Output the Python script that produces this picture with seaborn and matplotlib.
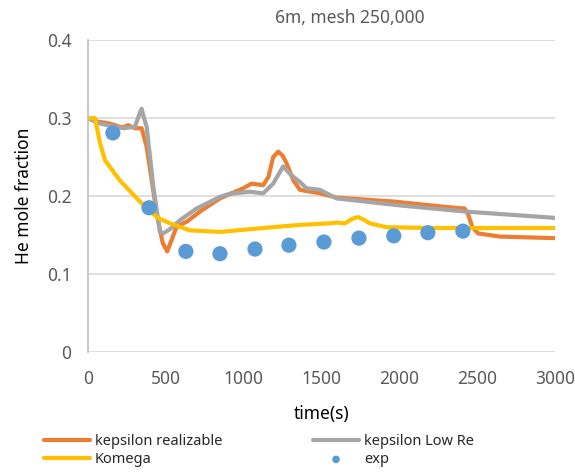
import matplotlib
matplotlib.use("Agg")
import matplotlib.pyplot as plt
import seaborn as sns

# --- data ---
t_real = [0, 50, 141, 220, 259, 302, 345, 377, 410, 441, 480, 509, 540, 570, 634, 719, 848,
          998, 1051, 1126, 1160, 1190, 1222, 1250, 1276, 1320, 1362, 1490, 1597, 1961, 2300,
          2420, 2440, 2470, 2507, 2646, 3000]
he_real = [0.300, 0.296, 0.293, 0.288, 0.291, 0.287, 0.287, 0.263, 0.220, 0.178, 0.140, 0.129,
           0.145, 0.161, 0.167, 0.180, 0.197, 0.210, 0.216, 0.214, 0.225, 0.250, 0.257, 0.252,
           0.242, 0.220, 0.208, 0.2035, 0.198, 0.193, 0.186, 0.184, 0.178, 0.160, 0.152, 0.148,
           0.146]

t_lowre = [0, 77, 227, 302, 330, 345, 360, 377, 420, 462, 484, 530, 591, 698, 848, 912, 1040,
           1126, 1190, 1254, 1300, 1362, 1404, 1490, 1597, 2004, 2432, 3000]
he_lowre = [0.300, 0.293, 0.287, 0.289, 0.305, 0.312, 0.300, 0.289, 0.212, 0.154, 0.152, 0.158,
            0.169, 0.184, 0.199, 0.203, 0.2055, 0.2035, 0.216, 0.238, 0.228, 0.218, 0.210,
            0.208, 0.197, 0.188, 0.180, 0.172]

t_komega = [0, 45, 75, 109, 205, 300, 377, 450, 527, 655, 848, 1125, 1362, 1554, 1597, 1651,
            1700, 1736, 1770, 1811, 1918, 2217, 3000]
he_komega = [0.300, 0.300, 0.270, 0.246, 0.220, 0.200, 0.184, 0.172, 0.165, 0.156, 0.154, 0.159,
             0.163, 0.165, 0.166, 0.165, 0.171, 0.173, 0.170, 0.165, 0.160, 0.159, 0.159]

t_exp = [160, 392, 629, 848, 1073, 1291, 1516, 1741, 1965, 2184, 2409]
he_exp = [0.281, 0.185, 0.129, 0.126, 0.132, 0.137, 0.141, 0.146, 0.149, 0.153, 0.155]

sns.set_style("white")
plt.rcParams['font.family'] = ['Noto Sans', 'DejaVu Sans']

fig = plt.figure(figsize=(5.75, 4.73), dpi=100)
ax = fig.add_axes([0.153, 0.256, 0.812, 0.659])

lw = 3
sns.lineplot(x=t_real, y=he_real, ax=ax, color='#ED7D31', linewidth=lw, sort=False,
             estimator=None, label='kepsilon realizable')
sns.lineplot(x=t_lowre, y=he_lowre, ax=ax, color='#A5A5A5', linewidth=lw, sort=False,
             estimator=None, label='kepsilon Low Re')
sns.lineplot(x=t_komega, y=he_komega, ax=ax, color='#FFC000', linewidth=lw, sort=False,
             estimator=None, label='Komega')
sns.scatterplot(x=t_exp, y=he_exp, ax=ax, color='#5B9BD5', s=120, edgecolor='none',
                label='exp', zorder=5)

ax.set_xlim(0, 3000)
ax.set_ylim(0, 0.4)
ax.set_xticks(range(0, 3001, 500))
ax.set_yticks([0, 0.1, 0.2, 0.3, 0.4])
ax.set_yticklabels(['0', '0.1', '0.2', '0.3', '0.4'])
ax.tick_params(axis='both', labelsize=12.5, colors='#595959', length=0)
ax.tick_params(axis='y', pad=12)
ax.tick_params(axis='x', pad=13)
ax.yaxis.grid(True, color='#D9D9D9', linewidth=1.2)
ax.set_axisbelow(True)
for s in ['top', 'right', 'bottom']:
    ax.spines[s].set_visible(False)
ax.spines['left'].set_color('#BFBFBF')
ax.spines['left'].set_linewidth(1.2)

ax.set_xlabel('time(s)', fontsize=12.5, color='black', labelpad=12)
ax.set_ylabel('He mole fraction', fontsize=12.5, color='black', labelpad=10)
fig.text(0.608, 0.962, '6m, mesh 250,000', ha='center', va='center', fontsize=12.5, color='#595959')

handles, labels = ax.get_legend_handles_labels()
order = [0, 2, 1, 3]
ax.legend([handles[i] for i in order], [labels[i] for i in order], ncol=2, frameon=False,
          loc='center', bbox_to_anchor=(0.45, 0.047), bbox_transform=fig.transFigure,
          fontsize=10.5, columnspacing=6.2, handlelength=3.2, labelspacing=0.2, handletextpad=0.3,
          markerscale=0.5)

fig.savefig('out.png', dpi=100)
